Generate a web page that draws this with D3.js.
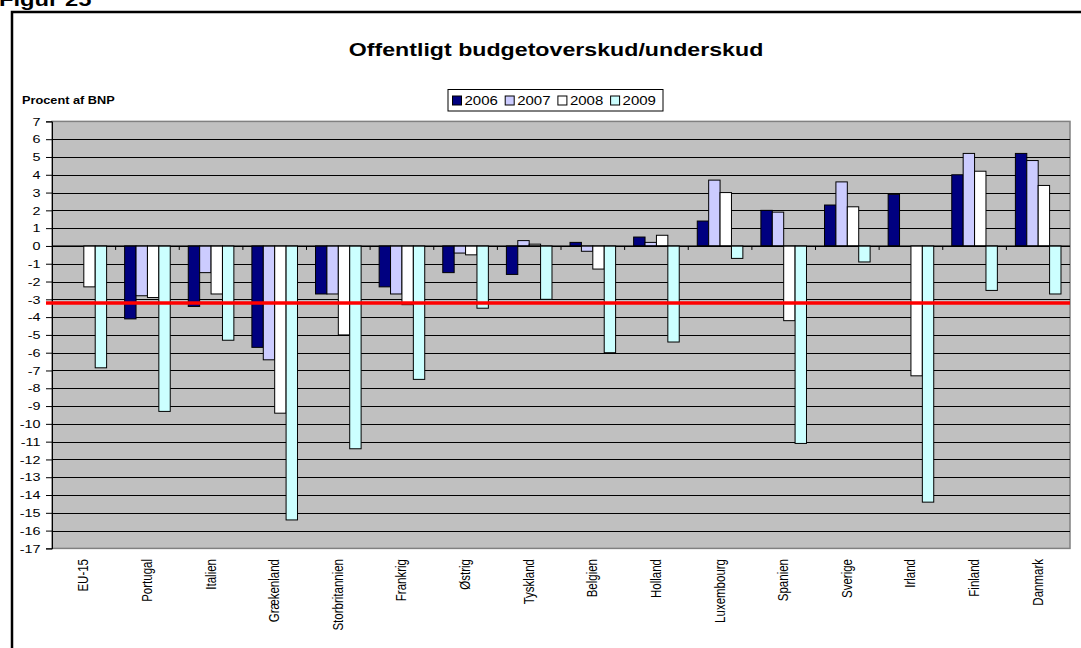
<!DOCTYPE html>
<html><head><meta charset="utf-8">
<script src="https://cdn.jsdelivr.net/npm/d3@7"></script>
<style>body{margin:0;background:#fff;}svg{display:block;font-family:"Liberation Sans",Arial,sans-serif;}</style>
</head><body><svg id="c" width="1081" height="648"></svg>
<script>
const categories = ["EU-15","Portugal","Italien","Grækenland","Storbritannien","Frankrig","Østrig","Tyskland","Belgien","Holland","Luxembourg","Spanien","Sverige","Irland","Finland","Danmark"];
const seriesNames = ["2006","2007","2008","2009"];
const v2006 = [0,-4.1,-3.4,-5.7,-2.7,-2.3,-1.5,-1.6,0.2,0.5,1.4,2.0,2.3,2.9,4.0,5.2];
const v2007 = [0,-2.8,-1.5,-6.4,-2.7,-2.7,-0.4,0.3,-0.3,0.2,3.7,1.9,3.6,0,5.2,4.8];
const v2008 = [-2.3,-2.9,-2.7,-9.4,-5.0,-3.3,-0.5,0.1,-1.3,0.6,3.0,-4.2,2.2,-7.3,4.2,3.4];
const v2009 = [-6.85,-9.3,-5.3,-15.4,-11.4,-7.5,-3.5,-3.0,-6.0,-5.4,-0.7,-11.1,-0.9,-14.4,-2.5,-2.7];
const yTicks = [7,6,5,4,3,2,1,0,-1,-2,-3,-4,-5,-6,-7,-8,-9,-10,-11,-12,-13,-14,-15,-16,-17];
const refLine = -3.2;
const colors = ["#000080","#ccccff","#ffffff","#ccffff"];
const allSeries = [v2006,v2007,v2008,v2009];

const SX = 1.25; // horizontal stretch of the reference's text
const svg = d3.select("#c");
const L = 52, R = 1070, T = 121.4, B = 548.4;

function stext(x, y, s, str, size, bold, anchor) {
  return svg.append("text").attr("transform", `translate(${x},${y}) scale(${s},1)`)
    .attr("font-size", size).attr("font-weight", bold ? "bold" : "normal")
    .attr("text-anchor", anchor || "start").text(str);
}

// outer frame
svg.append("path").attr("d","M12,648 L12,12 L1081,12").attr("fill","none").attr("stroke","#000").attr("stroke-width",2.5);
stext(-1, 6, SX, "Figur 25", 19, true);

stext(556, 56, 1.22, "Offentligt budgetoverskud/underskud", 19, true, "middle");
stext(22, 104, SX, "Procent af BNP", 10.2, true);

const x = d3.scaleBand().domain(categories).range([L,R]).paddingInner(0).paddingOuter(0);
const y = d3.scaleLinear().domain([-17,7]).range([B,T]);
const barW = 11.4;
const groupOff = (x.bandwidth() - 4*barW)/2;

svg.append("rect").attr("x",L).attr("y",T).attr("width",R-L).attr("height",B-T).attr("fill","#c0c0c0").attr("stroke","#808080").attr("stroke-width",1.5);

// grid
svg.append("g").selectAll("line").data(yTicks.filter(d=>d!==7 && d!==-17)).join("line")
  .attr("x1",L).attr("x2",R).attr("y1",d=>Math.round(y(d))+0.5).attr("y2",d=>Math.round(y(d))+0.5)
  .attr("stroke","#000").attr("stroke-width",1);

// y axis
const yAxis = d3.axisLeft(y).tickValues(yTicks).tickSize(6).tickFormat(d=>d);
const ga = svg.append("g").attr("transform",`translate(${L},0)`).call(yAxis);
ga.select(".domain").attr("stroke","#000");
ga.selectAll(".tick line").attr("stroke","#000");
ga.selectAll(".tick text").attr("x",0).attr("transform",`translate(-11.5,0) scale(${SX},1)`)
  .attr("font-size",11.5).attr("font-family","Liberation Sans, Arial, sans-serif").attr("fill","#000");

// bars
categories.forEach((c,i)=>{
  allSeries.forEach((s,j)=>{
    const v = s[i];
    if (v === 0) return;
    svg.append("rect")
      .attr("x", x(c)+groupOff+j*barW)
      .attr("y", y(Math.max(0,v)))
      .attr("width", barW)
      .attr("height", Math.abs(y(v)-y(0)))
      .attr("fill", colors[j]).attr("stroke","#000").attr("stroke-width",1);
  });
});

// x axis line at 0 with ticks
const gx = svg.append("g").attr("transform",`translate(0,${y(0)})`);
gx.append("line").attr("x1",L).attr("x2",R).attr("stroke","#000");
gx.selectAll("line.t").data(categories.slice(1)).join("line").attr("class","t")
  .attr("x1",d=>x(d)).attr("x2",d=>x(d)).attr("y1",0).attr("y2",4).attr("stroke","#000");

// ref line
svg.append("line").attr("x1",46).attr("x2",1070).attr("y1",y(refLine)).attr("y2",y(refLine)).attr("stroke","#ff0000").attr("stroke-width",3.5);

// category labels
svg.append("g").selectAll("text").data(categories).join("text")
  .attr("transform",d=>`translate(${x(d)+x.bandwidth()/2+4.5},559) scale(1.3,1) rotate(-90)`)
  .attr("text-anchor","end").attr("font-size",11.5).text(d=>d);

// legend
const lg = svg.append("g").attr("transform","translate(448,89.5)");
lg.append("rect").attr("width",215).attr("height",21.5).attr("fill","#fff").attr("stroke","#000").attr("stroke-width",1);
seriesNames.forEach((n,j)=>{
  const lx = 4.5 + j*52.7;
  lg.append("rect").attr("x",lx).attr("y",6.5).attr("width",9).attr("height",9).attr("fill",colors[j]).attr("stroke","#000");
  lg.append("text").attr("transform",`translate(${lx+12},15.5) scale(1.2,1)`).attr("font-size",12.5).text(n);
});
</script></body></html>
